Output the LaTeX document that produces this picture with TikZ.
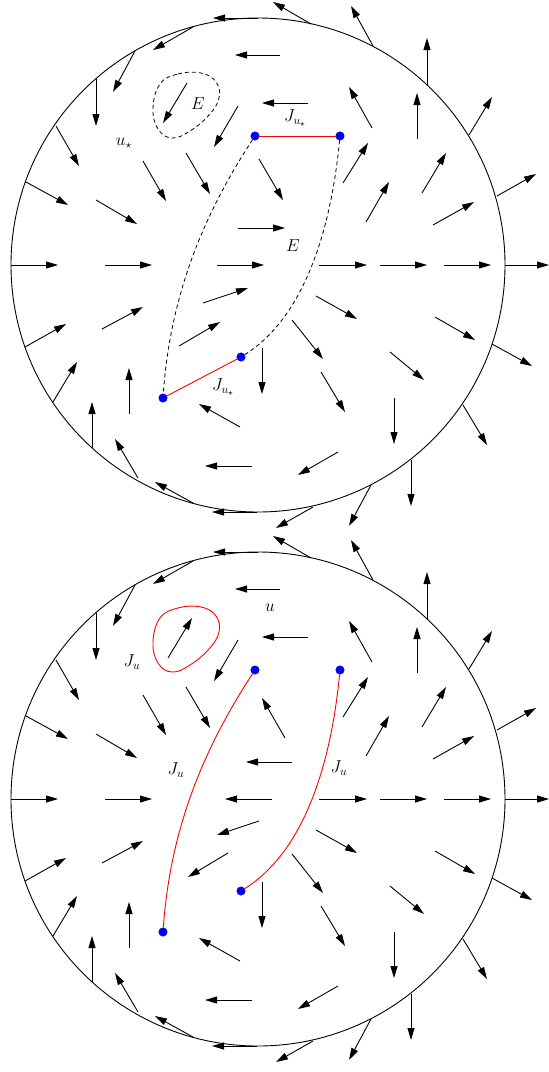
\documentclass[tikz,border=0pt]{standalone}
\usetikzlibrary{arrows.meta}

% tail x / tail y / head x / head y, in the coordinates of the upper disk
\newcommand\fixedfield{%
  258/18/213/18, 193/27/153/50, 135/51/113/92, 96/79/96/126, 56/126/79/166,
  26/182/68/205, 11/265/58/265, 280/55/235/55, 238/106/214/147, 308/103/262/103,
  143/161/166/201, 186/153/210/194, 96/200/137/224, 105/265/152/265,
  311/24/273/2, 373/46/351/6, 427/85/427/38, 469/135/492/97, 497/196/536/174,
  505/265/549/265, 372/128/349/87, 417/139/417/93, 343/183/368/143,
  422/193/446/153, 366/222/389/182, 433/225/474/202, 319/265/367/265,
  380/265/427/265, 444/265/491/265,
  25/347/66/324, 53/402/77/362, 92/448/92/402, 138/478/115/439, 193/503/155/482,
  257/512/212/512, 102/329/143/307, 129/414/129/368, 240/427/199/404,
  252/466/205/466, 262/348/262/394,
  316/296/357/319, 292/320/323/359, 321/372/345/412, 390/352/424/380,
  435/317/475/340, 394/398/394/444, 338/452/298/475, 492/344/532/366,
  463/405/487/445, 411/460/411/506, 371/485/349/526, 313/507/276/528}
\newcommand\starfield{%
  187/83/163/123, 259/159/283/200, 238/228/285/228, 217/265/264/265,
  203/303/248/288, 179/346/220/322}
\newcommand\flipfield{%
  168/124/192/84, 285/204/262/164, 292/228/246/228, 272/265/225/265,
  259/287/217/301, 228/319/188/343}

\begin{document}
\begin{tikzpicture}[
  x=1pt, y=-1pt,
  vec/.style={-{Triangle[length=12pt,width=7pt]}, line width=0.9pt},
  rim/.style={line width=0.9pt},
  border/.style={dash pattern=on 4pt off 3pt, line width=0.8pt},
  jline/.style={red, line width=0.9pt},
  endpt/.style={circle, fill=blue, draw=blue!60!black, inner sep=0pt, minimum size=8.5pt},
  every node/.style={font=\fontsize{18}{20}\selectfont}
]
  \useasboundingbox (0,0) rectangle (549,1072);

  % upper disk: u_star
  \draw[rim] (258,265) circle[radius=247];
  \foreach \xa/\ya/\xb/\yb in \fixedfield {\draw[vec] (\xa,\ya) -- (\xb,\yb);}
  \foreach \xa/\ya/\xb/\yb in \starfield {\draw[vec] (\xa,\ya) -- (\xb,\yb);}
  \draw[border] plot[smooth cycle, tension=0.7] coordinates {(160,84) (178,74) (201,73) (216,82) (219,98) (209,115) (190,131) (172,138) (158,129) (153,108)};
  \node[endpt] (p1) at (255,136) {};
  \node[endpt] (p2) at (340,136) {};
  \node[endpt] (p3) at (241,357) {};
  \node[endpt] (p4) at (163,398) {};
  \draw[jline] (p1) -- (p2);
  \draw[jline] (p4) -- (p3);
  \draw[border] (p1) .. controls (200,220) and (170,300) .. (p4);
  \draw[border] (p2) .. controls (330,240) and (300,320) .. (p3);
  \node (eloop) at (198,104) {$E$};
  \node (ustar) at (124,143) {$u_\star$};
  \node (jtop) at (295,118) {$J_{u_\star}$};
  \node (emid) at (293,246) {$E$};
  \node (jbot) at (223,387) {$J_{u_\star}$};

  % lower disk: u
  \begin{scope}[shift={(0,534)}]
    \draw[rim] (258,265) circle[radius=247];
    \foreach \xa/\ya/\xb/\yb in \fixedfield {\draw[vec] (\xa,\ya) -- (\xb,\yb);}
    \foreach \xa/\ya/\xb/\yb in \flipfield {\draw[vec] (\xa,\ya) -- (\xb,\yb);}
    \draw[jline] plot[smooth cycle, tension=0.7] coordinates {(160,84) (178,74) (201,73) (216,82) (219,98) (209,115) (190,131) (172,138) (158,129) (153,108)};
    \node[endpt] (q1) at (255,136) {};
    \node[endpt] (q2) at (340,136) {};
    \node[endpt] (q3) at (241,357) {};
    \node[endpt] (q4) at (163,398) {};
    \draw[jline] (q1) .. controls (200,220) and (170,300) .. (q4);
    \draw[jline] (q2) .. controls (330,240) and (300,320) .. (q3);
    \node (ulab) at (270,74) {$u$};
    \node (jloop) at (132,128) {$J_u$};
    \node (jleft) at (176,236) {$J_u$};
    \node (jright) at (339,234) {$J_u$};
  \end{scope}
\end{tikzpicture}
\end{document}
